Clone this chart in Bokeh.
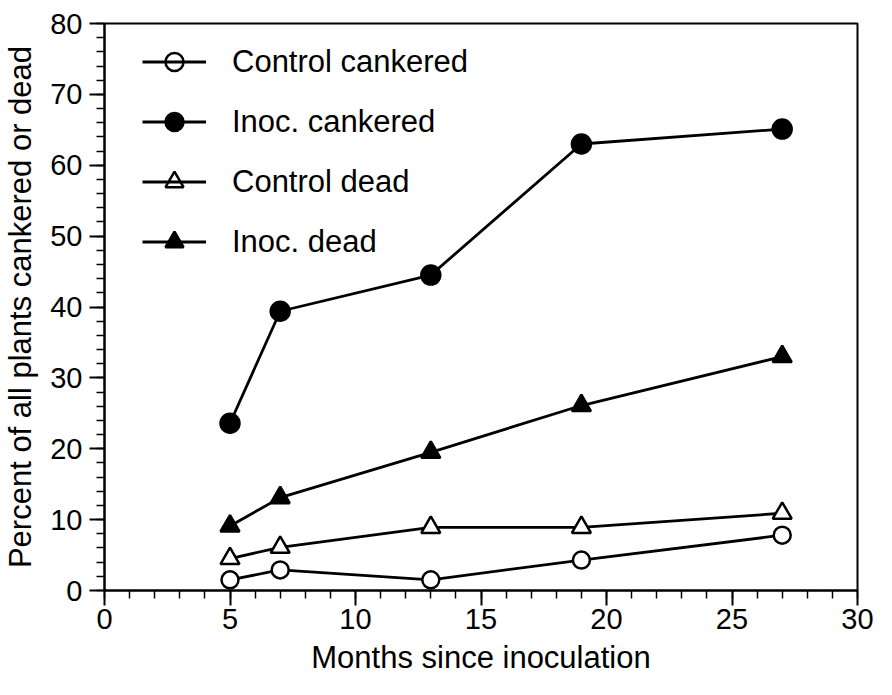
from bokeh.plotting import figure
from bokeh.models import Range1d, SingleIntervalTicker, Legend, LegendItem
from bokeh.embed import file_html
from bokeh.resources import INLINE

months = [5, 7, 13, 19, 27]
control_cankered = [1.5, 2.9, 1.5, 4.3, 7.8]
inoc_cankered = [23.6, 39.4, 44.5, 63.0, 65.1]
control_dead = [4.5, 6.1, 8.9, 8.9, 10.9]
inoc_dead = [9.1, 13.1, 19.5, 26.1, 33.0]

series_names = ["Control cankered", "Inoc. cankered", "Control dead", "Inoc. dead"]

FONT = "Liberation Sans"

p = figure(width=876, height=679, output_backend="svg", toolbar_location=None,
           x_range=Range1d(0, 30), y_range=Range1d(0, 80),
           min_border_left=104, min_border_right=19, min_border_top=23, min_border_bottom=89)

p.xgrid.visible = False
p.ygrid.visible = False
p.outline_line_color = "black"
p.outline_line_width = 2
p.background_fill_color = "white"
p.border_fill_color = "white"

p.xaxis.ticker = SingleIntervalTicker(interval=5, num_minor_ticks=5)
p.yaxis.ticker = SingleIntervalTicker(interval=10, num_minor_ticks=5)
p.xaxis.axis_label = "Months since inoculation"
p.yaxis.axis_label = "Percent of all plants cankered or dead"

for ax in (p.xaxis[0], p.yaxis[0]):
    ax.axis_line_width = 2
    ax.axis_line_color = "black"
    ax.major_tick_out = 15
    ax.major_tick_in = 0
    ax.minor_tick_out = 8
    ax.minor_tick_in = 0
    ax.major_tick_line_width = 2
    ax.minor_tick_line_width = 1.5
    ax.major_tick_line_color = "black"
    ax.minor_tick_line_color = "black"
    ax.major_label_text_font = FONT
    ax.major_label_text_font_size = "29px"
    ax.major_label_text_color = "black"
    ax.axis_label_text_font = FONT
    ax.axis_label_text_font_style = "normal"
    ax.axis_label_text_color = "black"

p.xaxis.axis_label_text_font_size = "31px"
p.yaxis.axis_label_text_font_size = "31px"
p.yaxis.major_label_standoff = 7
p.xaxis.major_label_standoff = 3
p.yaxis.axis_label_standoff = 9
p.xaxis.axis_label_standoff = 8

series = [
    (control_cankered, "circle", "white", 17),
    (inoc_cankered, "circle", "black", 19),
    (control_dead, "triangle", "white", 19),
    (inoc_dead, "triangle", "black", 19),
]

items = []
for name, (vals, marker, fill, size) in zip(series_names, series):
    ln = p.line(months, vals, line_color="black", line_width=2.8)
    sc = p.scatter(months, vals, marker=marker, size=size, fill_color=fill,
                   line_color="black", line_width=2.5)
    items.append(LegendItem(label=name, renderers=[sc, ln]))

legend = Legend(items=items, location=(38, 326), margin=0, padding=0,
                glyph_width=64, glyph_height=45, label_height=45,
                spacing=15, label_standoff=26,
                label_text_font=FONT, label_text_font_size="31px",
                label_text_color="black",
                border_line_alpha=0, background_fill_alpha=0)
p.add_layout(legend, "center")

open("out.html", "w").write(file_html(p, INLINE))
